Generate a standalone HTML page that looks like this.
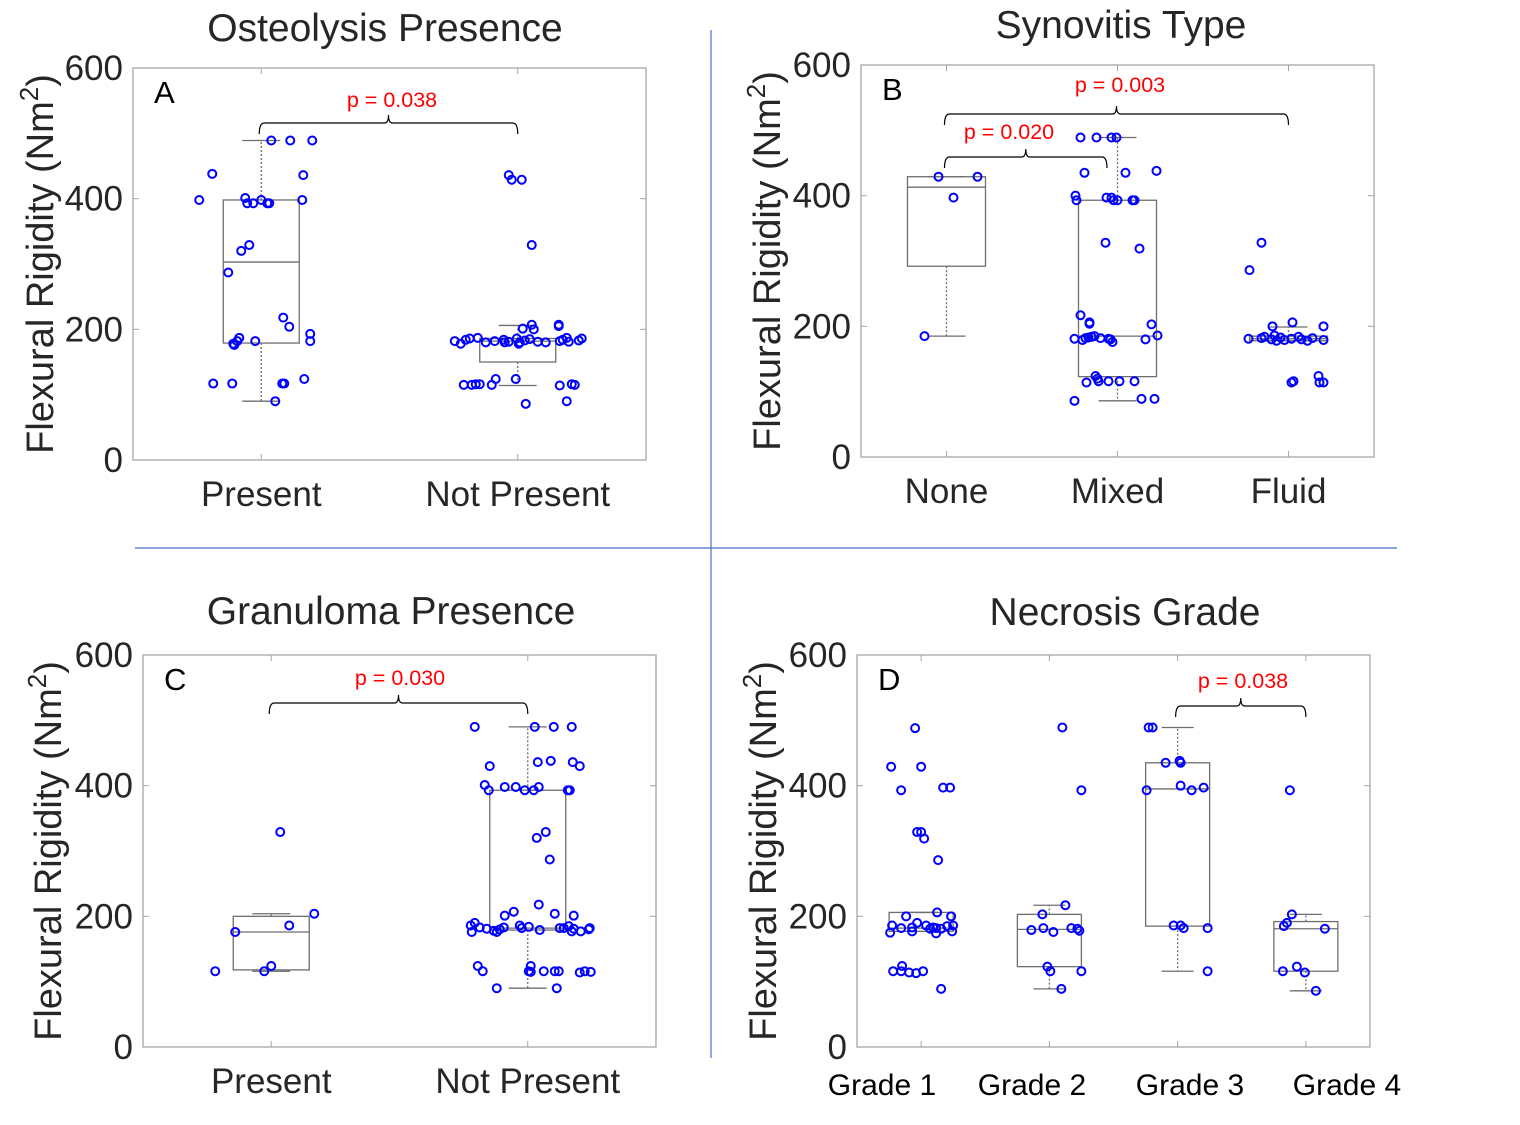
<!DOCTYPE html>
<html><head><meta charset="utf-8">
<style>
body{margin:0;background:#fff;}
svg{display:block;font-family:"Liberation Sans",sans-serif;}
</style></head>
<body>
<svg id="fig" width="1520" height="1125" viewBox="0 0 1520 1125">
<line x1="711" y1="30" x2="711" y2="1058" stroke="#4472c4" stroke-width="1.2"/>
<line x1="135" y1="548" x2="1397" y2="548" stroke="#4472c4" stroke-width="1.2"/>
</svg>
<script>
// ===== Data =====
const yTicks = [0, 200, 400, 600];
const catsA = ["Present", "Not Present"];
const catsB = ["None", "Mixed", "Fluid"];
const catsC = ["Present", "Not Present"];
const catsD = ["Grade 1", "Grade 2", "Grade 3", "Grade 4"];

// Panel A values / jitter (px)
const valA0 = [489,489,489,438,436,398,401,393,393,398,393,393,398,329,320,287,218,204,193,182,178,176,187,182,182,117,117,117,117,124,90];
const jitA0 = [10,29,51,-49,42,-62,-16,-14,-8,0,6,8,41,-12,-20,-33,22,28,49,49,-28,-27,-22,-24,-6,-48,-29,21,23,43,14];
const valA1 = [436,429,429,329,207,201,200,207,205,182,178,184,186,187,180,182,184,180,181,186,178,180,183,185,181,180,182,184,187,181,183,186,124,124,115,115,116,116,115,114,116,115,86,90];
const jitA1 = [-9,-6,4,14,14,5,16,41,41,-63,-57,-52,-48,-40,-32,-23,-14,-13,-9,-1,1,2,7,12,20,28,42,45,49,51,61,64,-2,-22,-54,-46,-42,-38,-26,42,54,57,8,49];
const boxA = {q1:[179,150], med:[303,182], q3:[398,186], lo:[90,114], hi:[489,206]};

// Panel B
const valB0 = [429,429,397,185];
const jitB0 = [-8,31,7,-22];
const valB1 = [489,489,489,489,435,435,438,400,393,397,397,393,393,393,393,328,319,217,206,204,203,181,179,182,183,184,185,182,181,180,176,180,186,124,120,114,116,116,116,116,86,89,89];
const jitB1 = [-37,-21,-6,-1,-33,8,39,-42,-41,-11,-6,-4,0,15,17,-12,22,-37,-28,-28,34,-43,-35,-32,-29,-26,-23,-17,-9,-7,-5,28,40,-22,-20,-31,-19,-9,2,17,-43,24,37];
const valB2 = [328,286,206,200,200,181,182,184,180,186,178,183,179,181,184,180,178,182,179,124,114,116,114,114];
const jitB2 = [-27,-39,4,-16,35,-40,-27,-24,-17,-14,-12,-8,-4,3,10,13,19,24,35,30,3,5,31,35];
const boxB = {q1:[292,123,178], med:[413,185,181], q3:[429,393,185], lo:[185,86,178], hi:[429,489,199]};

// Panel C
const valC0 = [329,204,186,176,116,116,124];
const jitC0 = [9,43,18,-36,-56,-7,0];
const valC1 = [490,490,490,490,430,436,438,436,430,401,393,398,398,393,393,398,393,393,329,320,287,218,207,204,201,201,186,176,190,183,181,178,176,180,183,186,182,184,179,182,182,185,177,181,177,180,182,124,124,116,116,115,116,116,116,114,116,115,90,90];
const jitC1 = [-53,7,26,44,-38,10,23,45,52,-43,-39,-23,-12,-3,6,11,40,42,18,9,22,11,-14,27,-23,46,-57,-56,-53,-48,-41,-34,-31,-28,-24,-8,-6,1,12,32,36,41,44,46,53,61,62,-50,3,-45,1,3,16,27,31,52,57,63,-31,29];
const boxC = {q1:[118,179], med:[176,182], q3:[200,393], lo:[116,90], hi:[204,490]};

// Panel D
const valD0 = [488,429,429,393,397,397,329,329,319,286,206,200,200,186,182,183,190,186,181,183,182,181,185,186,175,177,174,177,124,116,116,114,113,116,89];
const jitD0 = [-6,-30,0,-20,22,29,-4,0,3,17,16,-15,30,-29,-20,-9,-4,5,9,12,15,20,26,32,-31,-9,15,31,-19,-28,-20,-12,-5,2,20];
const valD1 = [489,393,217,203,179,182,176,182,181,178,123,116,116,89];
const jitD1 = [13,32,16,-7,-18,-6,4,22,28,30,-2,1,32,12];
const valD2 = [489,489,435,438,435,393,400,393,397,186,186,182,182,116];
const jitD2 = [-29,-25,-12,2,3,-31,3,14,26,-4,3,6,30,30];
const valD3 = [393,203,190,185,181,116,123,114,86];
const jitD3 = [-16,-14,-19,-22,19,-23,-9,-1,10];
const boxD = {q1:[177,123,185,116], med:[182,180,395,181], q3:[206,203,435,192], lo:[177,89,116,86], hi:[206,217,489,203]};

// ===== Drawing =====
const NS = "http://www.w3.org/2000/svg";
const svg = document.getElementById("fig");
function mk(tag, attrs, parent){
  const e = document.createElementNS(NS, tag);
  for (const k in attrs) e.setAttribute(k, attrs[k]);
  (parent||svg).appendChild(e);
  return e;
}

const panels = [
  {id:"a", letter:"A", title:"Osteolysis Presence", titleX:385, titleY:41, L:133, R:646, T:68, B:460, cats:catsA,
   vals:[valA0,valA1], jits:[jitA0,jitA1], box:boxA, bw:38, cw:19, ytx:40, catY:506, catFont:35, catLabelX:null,
   brackets:[{a:0,b:1,y:123,txt:"p = 0.038",tx:392,ty:107}]},
  {id:"b", letter:"B", title:"Synovitis Type", titleX:1121, titleY:38, L:861, R:1374, T:65, B:457, cats:catsB,
   vals:[valB0,valB1,valB2], jits:[jitB0,jitB1,jitB2], box:boxB, bw:39, cw:19, ytx:767, catY:503, catFont:35, catLabelX:null,
   brackets:[{a:0,b:2,y:114,txt:"p = 0.003",tx:1120,ty:92},{a:0,b:1,y:157,txt:"p = 0.020",tx:1009,ty:139,bx:1107}]},
  {id:"c", letter:"C", title:"Granuloma Presence", titleX:391, titleY:624, L:143, R:656, T:655, B:1047, cats:catsC,
   vals:[valC0,valC1], jits:[jitC0,jitC1], box:boxC, bw:38, cw:19, ytx:48, catY:1093, catFont:35, catLabelX:null,
   brackets:[{a:0,b:1,y:703,txt:"p = 0.030",tx:400,ty:685}]},
  {id:"d", letter:"D", title:"Necrosis Grade", titleX:1125, titleY:625, L:857, R:1370, T:655, B:1047, cats:catsD,
   vals:[valD0,valD1,valD2,valD3], jits:[jitD0,jitD1,jitD2,jitD3], box:boxD, bw:32, cw:16, ytx:763, catY:1095, catFont:30, catLabelX:[882,1032,1190,1347],
   brackets:[{a:2,b:3,y:706,txt:"p = 0.038",tx:1243,ty:688}]}
];

panels.forEach(p=>{
  const g = mk("g",{});
  
  
  const n = p.cats.length;
  const xS = i => p.L + (i + 0.5) * (p.R - p.L) / n;
  const yS = v => p.B - (v / 600) * (p.B - p.T);

  const frame = mk("rect",{x:p.L,y:p.T,width:p.R-p.L,height:p.B-p.T,fill:"none",stroke:"#a6a6a6","stroke-width":1.3},g);
  
  

  yTicks.forEach(t=>{
    const y = yS(t);
    mk("line",{x1:p.L,y1:y,x2:p.L+6,y2:y,stroke:"#a6a6a6"},g);
    mk("line",{x1:p.R,y1:y,x2:p.R-6,y2:y,stroke:"#a6a6a6"},g);
    const tl = mk("text",{x:p.L-10,y:y+12,"text-anchor":"end","font-size":35,fill:"#262626"},g);
    tl.textContent = t;
    
    
  });
  p.cats.forEach((c,i)=>{
    const x = xS(i);
    mk("line",{x1:x,y1:p.B,x2:x,y2:p.B-6,stroke:"#a6a6a6"},g);
    mk("line",{x1:x,y1:p.T,x2:x,y2:p.T+6,stroke:"#a6a6a6"},g);
    const lx = p.catLabelX ? p.catLabelX[i] : x;
    const tl = mk("text",{x:lx,y:p.catY,"text-anchor":"middle","font-size":p.catFont,fill:p.catLabelX?"#000":"#262626"},g);
    tl.textContent = c;
    
    
  });
  const tt = mk("text",{x:p.titleX,y:p.titleY,"text-anchor":"middle","font-size":39,fill:"#262626"},g);
  tt.textContent = p.title;
  
  
  const cy = (p.T + p.B) / 2;
  const yt = mk("text",{x:p.ytx,y:cy,"text-anchor":"middle","font-size":38,fill:"#262626",transform:`rotate(-90 ${p.ytx} ${cy}) translate(0 13)`},g);
  yt.textContent = "Flexural Rigidity (Nm";
  const sup = mk("tspan",{"font-size":26,dy:-15},yt);
  sup.textContent = "2";
  const cl = mk("tspan",{dy:15},yt);
  cl.textContent = ")";
  
  
  const lt = mk("text",{x:p.L+21,y:p.T+35,"font-size":31,fill:"#000"},g);
  lt.textContent = p.letter;
  
  

  p.cats.forEach((c,i)=>{
    const x = xS(i), b = p.box;
    const bg = mk("g",{stroke:"#6e6e6e","stroke-width":1.3,fill:"none"},g);
    
    
    mk("rect",{x:x-p.bw,y:yS(b.q3[i]),width:2*p.bw,height:yS(b.q1[i])-yS(b.q3[i])},bg);
    mk("line",{x1:x-p.bw,y1:yS(b.med[i]),x2:x+p.bw,y2:yS(b.med[i])},bg);
    mk("line",{x1:x,y1:yS(b.q3[i]),x2:x,y2:yS(b.hi[i]),"stroke-dasharray":"2 2"},bg);
    mk("line",{x1:x,y1:yS(b.q1[i]),x2:x,y2:yS(b.lo[i]),"stroke-dasharray":"2 2"},bg);
    mk("line",{x1:x-p.cw,y1:yS(b.hi[i]),x2:x+p.cw,y2:yS(b.hi[i])},bg);
    mk("line",{x1:x-p.cw,y1:yS(b.lo[i]),x2:x+p.cw,y2:yS(b.lo[i])},bg);
  });
  p.vals.forEach((arr,i)=>{
    const x = xS(i);
    arr.forEach((v,k)=>{
      const c = mk("circle",{cx:x+p.jits[i][k],cy:yS(v),r:4,fill:"none",stroke:"#0000ff","stroke-width":2},g);
      
      
    });
  });
  p.brackets.forEach(br=>{
    const x1 = xS(br.a) - 2, x2 = br.bx || xS(br.b);
    const xm = (x1 + x2) / 2, y = br.y;
    const bp = mk("path",{d:`M${x1},${y+11} Q${x1},${y} ${x1+5},${y} L${xm-4},${y} Q${xm},${y} ${xm},${y-8} Q${xm},${y} ${xm+4},${y} L${x2-5},${y} Q${x2},${y} ${x2},${y+11}`,fill:"none",stroke:"#000","stroke-width":1.2},g);
    
    
    const pt = mk("text",{x:br.tx,y:br.ty,"text-anchor":"middle","font-size":21.5,fill:"#ff0000"},g);
    pt.textContent = br.txt;
    
    
  });
});
</script>
</body></html>
